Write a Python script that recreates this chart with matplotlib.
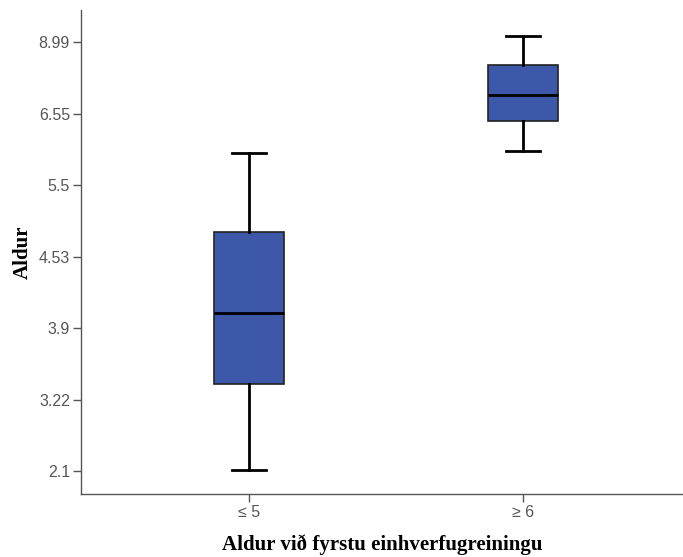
import matplotlib
matplotlib.use('Agg')
import matplotlib.pyplot as plt

# Groups and box statistics (in tick-position units of the y axis)
groups = ['≤ 5', '≥ 6']
whisker_low = [0.01, 4.48]
q1 = [1.22, 4.90]
median = [2.21, 5.26]
q3 = [3.34, 5.68]
whisker_high = [4.45, 6.08]

# y axis shows these labels at equally spaced positions
ytick_labels = ['2.1', '3.22', '3.9', '4.53', '5.5', '6.55', '8.99']

plt.rcParams['font.family'] = ['Liberation Serif', 'DejaVu Serif']

fig = plt.figure(figsize=(6.83, 5.57), dpi=100)
ax = fig.add_axes([81 / 683, 63 / 557, 602 / 683, 484 / 557])

stats = []
for i, g in enumerate(groups):
    stats.append({'label': g, 'whislo': whisker_low[i], 'q1': q1[i], 'med': median[i],
                  'q3': q3[i], 'whishi': whisker_high[i], 'fliers': []})

ax.bxp(stats, positions=[1, 2], widths=0.255, patch_artist=True, showfliers=False,
       boxprops=dict(facecolor='#3D58A9', edgecolor='#222222', linewidth=1.2),
       medianprops=dict(color='black', linewidth=2),
       whiskerprops=dict(color='black', linewidth=2),
       capprops=dict(color='black', linewidth=2),
       capwidths=0.125)

ax.set_xlim(0.387, 2.584)
ax.set_ylim(-0.32, 6.45)
ax.set_yticks(range(len(ytick_labels)))
ax.set_yticklabels(ytick_labels)

for s in ['top', 'right']:
    ax.spines[s].set_visible(False)
for s in ['left', 'bottom']:
    ax.spines[s].set_color('#555555')
    ax.spines[s].set_linewidth(1)

ax.tick_params(axis='both', direction='out', length=6, width=1, color='#555555',
               labelcolor='#555555', labelsize=11.5, pad=2)
for lbl in ax.get_xticklabels() + ax.get_yticklabels():
    lbl.set_family(['Liberation Sans', 'DejaVu Sans'])

ax.set_ylabel('Aldur', fontsize=15, fontweight='bold', labelpad=4)
ax.set_xlabel('Aldur við fyrstu einhverfugreiningu', fontsize=15, fontweight='bold', labelpad=10)

fig.savefig('out.png', dpi=100)
